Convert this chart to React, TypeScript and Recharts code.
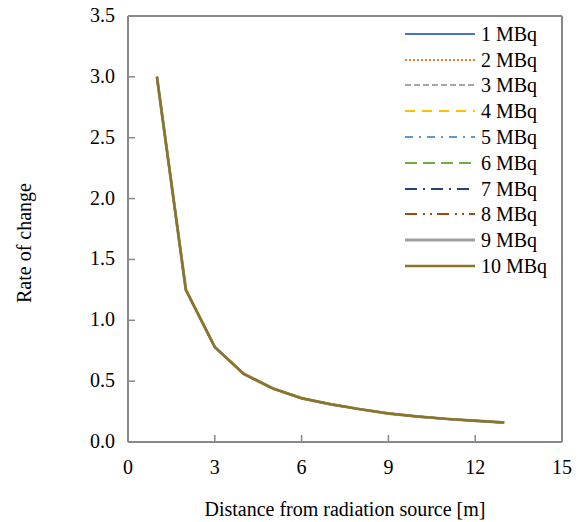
import React from "react";
import { LineChart, Line, XAxis, YAxis, ReferenceLine } from "recharts";

// distance from the source [m]
const distances = [1, 2, 3, 4, 5, 6, 7, 8, 9, 10, 11, 12, 13];
// all activities give the same curve (they overlap in the figure)
const rateOfChange = [3.0, 1.25, 0.78, 0.56, 0.44, 0.36, 0.31, 0.27, 0.235, 0.21, 0.19, 0.175, 0.16];

const seriesNames = [
  "1 MBq", "2 MBq", "3 MBq", "4 MBq", "5 MBq",
  "6 MBq", "7 MBq", "8 MBq", "9 MBq", "10 MBq",
];
const seriesValues = [
  rateOfChange, rateOfChange, rateOfChange, rateOfChange, rateOfChange,
  rateOfChange, rateOfChange, rateOfChange, rateOfChange, rateOfChange,
];

const xTicks = [0, 3, 6, 9, 12, 15];
const yTicks = [0, 0.5, 1, 1.5, 2, 2.5, 3, 3.5];

const styles = [
  { color: "#4472C4", dash: undefined, width: 2 },
  { color: "#ED7D31", dash: "2 2", width: 2 },
  { color: "#A5A5A5", dash: "6 3", width: 2 },
  { color: "#FFC000", dash: "10 7", width: 2 },
  { color: "#5B9BD5", dash: "8 6 2 6", width: 2 },
  { color: "#70AD47", dash: "12 6", width: 2 },
  { color: "#264478", dash: "12 6 2 6", width: 2 },
  { color: "#9E480E", dash: "12 6 2 5 2 5", width: 2 },
  { color: "#A0A0A0", dash: undefined, width: 3 },
  { color: "#8C7425", dash: undefined, width: 2.5 },
];

const data = distances.map((d, i) => {
  const row: Record<string, number> = { x: d };
  seriesNames.forEach((n, s) => {
    row[n] = seriesValues[s][i];
  });
  return row;
});

const FONT = "'Liberation Serif', 'Times New Roman', serif";
const AXIS = "#898989";
const FS = 20;

const YTick = (props: any) => {
  const { x, y, payload } = props;
  const v = payload.value;
  return (
    <g>
      {v > 0 && v < 3.5 && <line x1={x} x2={x + 7} y1={y} y2={y} stroke={AXIS} strokeWidth={1.5} />}
      <text x={x - 13} y={y} dy={6} textAnchor="end" fontSize={FS} fontFamily={FONT} fill="#000">
        {v.toFixed(1)}
      </text>
    </g>
  );
};

const XTick = (props: any) => {
  const { x, y, payload } = props;
  const v = payload.value;
  return (
    <g>
      {v > 0 && v < 15 && <line x1={x} x2={x} y1={y} y2={y - 7} stroke={AXIS} strokeWidth={1.5} />}
      <text x={x} y={y + 32} textAnchor="middle" fontSize={FS} fontFamily={FONT} fill="#000">
        {v}
      </text>
    </g>
  );
};

const YLabel = (props: any) => {
  const vb = props.viewBox;
  const cx = 31;
  const cy = vb.y + vb.height / 2 + 14;
  return (
    <text
      x={cx}
      y={cy}
      transform={`rotate(-90, ${cx}, ${cy})`}
      textAnchor="middle"
      fontSize={FS}
      fontFamily={FONT}
      fill="#000"
    >
      Rate of change
    </text>
  );
};

const LegendBox = () => (
  <div
    style={{
      position: "absolute",
      left: 405,
      top: 21,
      fontFamily: FONT,
      fontSize: FS,
      color: "#000",
      lineHeight: 1,
    }}
  >
    {seriesNames.map((n, i) => (
      <div key={n} style={{ display: "flex", alignItems: "center", height: 25.8 }}>
        <svg width={70} height={10} style={{ marginRight: 6 }}>
          <line
            x1={0}
            x2={70}
            y1={5}
            y2={5}
            stroke={styles[i].color}
            strokeWidth={styles[i].width}
            strokeDasharray={styles[i].dash}
          />
        </svg>
        <span>{n}</span>
      </div>
    ))}
  </div>
);

export default function App() {
  return (
    <div style={{ position: "absolute", left: 0, top: 0, width: 583, height: 522 }}>
      <LineChart
        width={583}
        height={522}
        data={data}
        margin={{ top: 16, right: 21, left: 0, bottom: 0 }}
      >
        <XAxis
          dataKey="x"
          type="number"
          domain={[0, 15]}
          ticks={xTicks}
          tickLine={false}
          tickSize={0}
          tickMargin={0}
          tick={<XTick />}
          axisLine={{ stroke: AXIS, strokeWidth: 2 }}
          interval={0}
          height={80}
          label={{
            value: "Distance from radiation source [m]",
            position: "insideBottom",
            offset: 6,
            style: { fontFamily: FONT, fontSize: FS, fill: "#000" },
          }}
        />
        <YAxis
          type="number"
          domain={[0, 3.5]}
          ticks={yTicks}
          width={128}
          tickLine={false}
          tickSize={0}
          tickMargin={0}
          tick={<YTick />}
          axisLine={{ stroke: AXIS, strokeWidth: 2 }}
          interval={0}
          label={<YLabel />}
        />
        <ReferenceLine y={3.5} stroke={AXIS} strokeWidth={2} ifOverflow="visible" />
        <ReferenceLine x={15} stroke={AXIS} strokeWidth={2} ifOverflow="visible" />
        {seriesNames.map((n, i) => (
          <Line
            key={n}
            dataKey={n}
            type="linear"
            stroke={styles[i].color}
            strokeWidth={styles[i].width}
            strokeDasharray={styles[i].dash}
            dot={false}
            activeDot={false}
            isAnimationActive={false}
          />
        ))}
      </LineChart>
      <LegendBox />
    </div>
  );
}
